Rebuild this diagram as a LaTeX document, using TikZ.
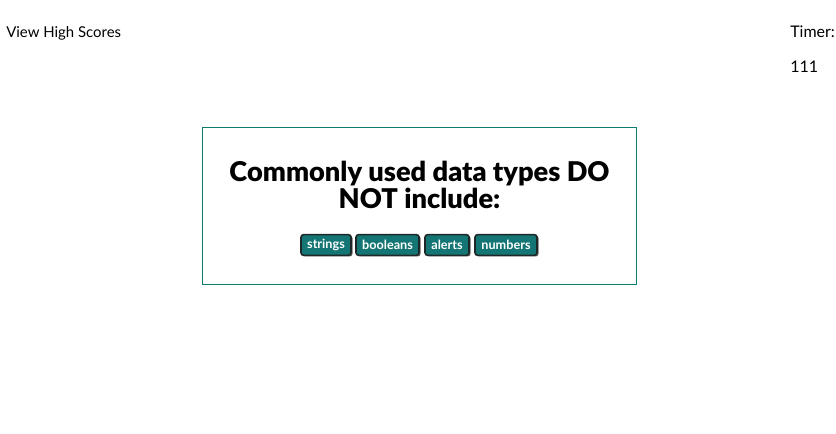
\documentclass[tikz,border=0pt]{standalone}
\usepackage{fontspec}
\setmainfont{Lato}
\newfontfamily\headfont{Lato Black}
\definecolor{teal1}{RGB}{20,118,116}
\definecolor{tealbox}{RGB}{17,122,111}
\definecolor{btnedge}{RGB}{30,40,40}
\begin{document}
\begin{tikzpicture}[x=0.75pt,y=-0.75pt,
  btn/.style={fill=teal1,draw=btnedge,line width=1.2pt,rounded corners=2pt,text=white,
    font=\fontsize{9.5}{11}\bfseries\selectfont,inner sep=0pt,minimum height=15.5pt,anchor=center},
  plain/.style={font=\fontsize{12}{14}\selectfont,inner sep=0pt,anchor=base west},
  head/.style={font=\fontsize{20.4}{20.4}\headfont\selectfont,inner sep=0pt,anchor=base}]
\useasboundingbox (0,0) rectangle (836,434);
\fill[white] (0,0) rectangle (836,434);
\node[plain,font=\fontsize{11.2}{14}\selectfont] (hs) at (6,38) {View High Scores};
\node[plain] (tm) at (790,38) {Timer:};
\node[plain] (tv) at (790,73) {111};
\draw[tealbox,line width=0.8pt] (202.5,127.5) rectangle (636.5,284.5);
\node[head] (q1) at (419.5,182) {Commonly used data types DO};
\node[head] (q2) at (419.5,209) {NOT include:};
\foreach \n/\t/\a/\b in {b1/strings/301/351,b2/booleans/356/419,b3/alerts/425/469,b4/numbers/475/537}{
  \fill[black!60,rounded corners=2pt] (\a+1.5,235.5) rectangle (\b+1.5,256.5);
  \node[btn,minimum width={(\b-\a)*0.75pt}] (\n) at ({(\a+\b)/2},245) {\t};
}
\end{tikzpicture}
\end{document}
